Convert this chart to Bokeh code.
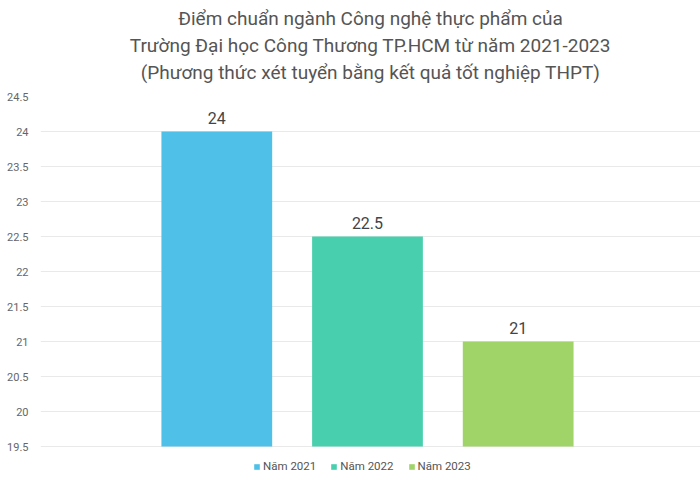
from bokeh.plotting import figure
from bokeh.models import ColumnDataSource, Range1d, FixedTicker, Title, Legend, LegendItem, LabelSet
from bokeh.core.properties import value
from bokeh.embed import file_html
from bokeh.resources import INLINE

# data
years = ["Năm 2021", "Năm 2022", "Năm 2023"]
scores = [24, 22.5, 21]
score_labels = ["24", "22.5", "21"]
colors = ["#4FC0E8", "#48CFAD", "#A0D468"]
y_ticks = [19.5, 20, 20.5, 21, 21.5, 22, 22.5, 23, 23.5, 24, 24.5]
y_tick_labels = ["19.5", "20", "20.5", "21", "21.5", "22", "22.5", "23", "23.5", "24", "24.5"]
title_lines = [
    "Điểm chuẩn ngành Công nghệ thực phẩm của",
    "Trường Đại học Công Thương TP.HCM từ năm 2021-2023",
    "(Phương thức xét tuyển bằng kết quả tốt nghiệp THPT)",
]

FONT = "Roboto"
src = ColumnDataSource(dict(x=list(range(len(years))), top=scores, lab=score_labels,
                            color=colors, name=years))

p = figure(width=700, height=481, output_backend="svg", toolbar_location=None,
           x_range=Range1d(-1.17, 3.21), y_range=Range1d(19.0, 24.5),
           min_border_left=40, min_border_right=0, min_border_top=96, min_border_bottom=0)
p.outline_line_color = None
p.background_fill_color = "white"
p.border_fill_color = "white"

r = p.vbar(x="x", top="top", bottom=19.5, width=0.735, color="color", source=src, line_color=None)

p.add_layout(LabelSet(x="x", y="top", text="lab", source=src, text_align="center",
                      text_baseline="bottom", y_offset=8, text_font=value(FONT),
                      text_font_size="16px", text_color="#444444"))

p.xaxis.visible = False
p.xgrid.visible = False
p.ygrid.grid_line_color = "#e9e9e9"
p.ygrid.grid_line_width = 1
p.yaxis.ticker = FixedTicker(ticks=y_ticks)
p.yaxis.major_label_overrides = {t: l for t, l in zip(y_ticks, y_tick_labels)}
p.yaxis.axis_line_color = None
p.yaxis.major_tick_line_color = None
p.yaxis.minor_tick_line_color = None
p.yaxis.major_label_text_font = FONT
p.yaxis.major_label_text_font_size = "11px"
p.yaxis.major_label_text_color = "#666666"
p.yaxis.major_label_standoff = 6

# spacer between the title block and the plot frame
p.add_layout(Title(text=" ", text_font_size="8.5px", standoff=0), "above")
for line in reversed(title_lines):
    p.add_layout(Title(text=line, align="center", text_font=FONT, text_font_size="19px",
                       text_font_style="normal", text_color="#555555",
                       standoff=2), "above")

items = [LegendItem(label=years[i], renderers=[r], index=i) for i in range(len(years))]
leg = Legend(items=items, orientation="horizontal", location=(213, 8),
             label_text_font=FONT, label_text_font_size="11.5px", label_text_color="#555555",
             glyph_width=7, glyph_height=7, label_standoff=3, spacing=14,
             padding=2, margin=0, border_line_color=None, background_fill_alpha=0)
p.add_layout(leg)

open("out.html", "w").write(file_html(p, INLINE))
